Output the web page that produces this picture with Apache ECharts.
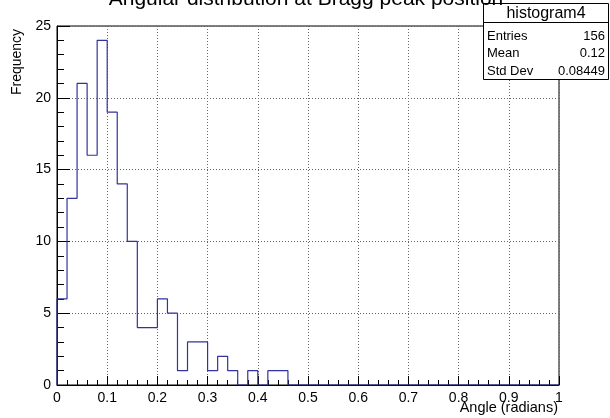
<!DOCTYPE html>
<html>
<head>
<meta charset="utf-8">
<script src="https://cdn.jsdelivr.net/npm/echarts@6/dist/echarts.min.js"></script>
<style>
  html, body { margin: 0; padding: 0; background: #fff; }
  #chart { width: 610px; height: 418px; }
</style>
</head>
<body>
<div id="chart"></div>
<script>
// Histogram of angles: 50 bins of width 0.02 over [0, 1]
const binWidth = 0.02;
const binCounts = [6, 13, 21, 16, 24, 19, 14, 10, 4, 4,
                   6, 5, 1, 3, 3, 1, 2, 1, 0, 1,
                   0, 1, 1, 0, 0, 0, 0, 0, 0, 0,
                   0, 0, 0, 0, 0, 0, 0, 0, 0, 0,
                   0, 0, 0, 0, 0, 0, 0, 0, 0, 0];
const xTicks = [0, 0.1, 0.2, 0.3, 0.4, 0.5, 0.6, 0.7, 0.8, 0.9, 1];
const yTicks = [0, 5, 10, 15, 20, 25];
const statNames = ['Entries', 'Mean', 'Std Dev'];
const statValues = ['156', '0.12', '0.08449'];
const histName = 'histogram4';

// Outline of the histogram as a staircase through the bin edges
const outline = [[0, 0]];
binCounts.forEach((c, i) => {
  outline.push([i * binWidth, c]);
  outline.push([(i + 1) * binWidth, c]);
});
outline.push([binCounts.length * binWidth, 0]);

const FONT = 'Liberation Sans, Arial, sans-serif';
const chart = echarts.init(document.getElementById('chart'), null, { renderer: 'canvas' });

// Statistics box
const boxTop = 3.5, boxLeft = 483.5, boxRight = 608.5, headerBottom = 22.5, boxBottom = 79.5;
const statRowY = [36, 53.5, 71];
const graphics = [
  { type: 'rect', shape: { x: boxLeft, y: boxTop, width: boxRight - boxLeft, height: boxBottom - boxTop },
    style: { fill: '#fff', stroke: '#000', lineWidth: 1 }, z: 100 },
  { type: 'line', shape: { x1: boxLeft, y1: headerBottom, x2: boxRight, y2: headerBottom },
    style: { stroke: '#000', lineWidth: 1 }, z: 101 },
  { type: 'text', x: (boxLeft + boxRight) / 2, y: (boxTop + headerBottom) / 2 + 0.5, z: 102,
    style: { text: histName, font: '16px ' + FONT, fill: '#000', align: 'center', verticalAlign: 'middle' } },
  { type: 'text', x: 17, y: 62, rotation: Math.PI / 2, z: 102,
    style: { text: 'Frequency', font: '14px ' + FONT, fill: '#000', align: 'center', verticalAlign: 'middle' } },
  { type: 'text', x: 558, y: 408, z: 102,
    style: { text: 'Angle (radians)', font: '14.5px ' + FONT, fill: '#000', align: 'right', verticalAlign: 'middle' } },
  // Plot title, partly above the top edge of the canvas
  { type: 'text', x: 306, y: 10, z: 103,
    style: { text: 'Angular distribution at Bragg peak position', font: '21px ' + FONT, fill: '#000',
      align: 'center', verticalAlign: 'bottom' } }
];
statNames.forEach((n, i) => {
  graphics.push({ type: 'text', x: 487, y: statRowY[i], z: 102,
    style: { text: n, font: '13px ' + FONT, fill: '#000', align: 'left', verticalAlign: 'middle' } });
  graphics.push({ type: 'text', x: 605, y: statRowY[i], z: 102,
    style: { text: statValues[i], font: '13px ' + FONT, fill: '#000', align: 'right', verticalAlign: 'middle' } });
});

chart.setOption({
  animation: false,
  backgroundColor: '#fff',
  grid: { left: 57, right: 51, top: 26, bottom: 33, show: true, borderColor: '#000', borderWidth: 1 },
  xAxis: {
    type: 'value', min: xTicks[0], max: xTicks[xTicks.length - 1], interval: 0.1,
    axisLine: { show: true, onZero: false, lineStyle: { color: '#000' } },
    axisTick: { show: true, inside: true, length: 9, lineStyle: { color: '#000' } },
    minorTick: { show: true, splitNumber: 5, length: 5, lineStyle: { color: '#000' } },
    splitLine: { show: true, lineStyle: { color: '#666', type: [1, 2], width: 1 } },
    axisLabel: { color: '#000', fontFamily: FONT, fontSize: 14, margin: 6,
      formatter: v => String(Math.round(v * 10) / 10) }
  },
  yAxis: {
    type: 'value', min: yTicks[0], max: yTicks[yTicks.length - 1], interval: 5,
    axisLine: { show: true, lineStyle: { color: '#000' } },
    axisTick: { show: true, inside: true, length: 13, lineStyle: { color: '#000' } },
    minorTick: { show: true, splitNumber: 5, length: 7, lineStyle: { color: '#000' } },
    splitLine: { show: true, lineStyle: { color: '#666', type: [1, 2], width: 1 } },
    axisLabel: { color: '#000', fontFamily: FONT, fontSize: 14, margin: 6 }
  },
  series: [{
    type: 'line', data: outline, showSymbol: false, symbol: 'none',
    lineStyle: { color: '#33339f', width: 1.2 }, z: 5, clip: true
  }],
  graphic: graphics
});
</script>
</body>
</html>
